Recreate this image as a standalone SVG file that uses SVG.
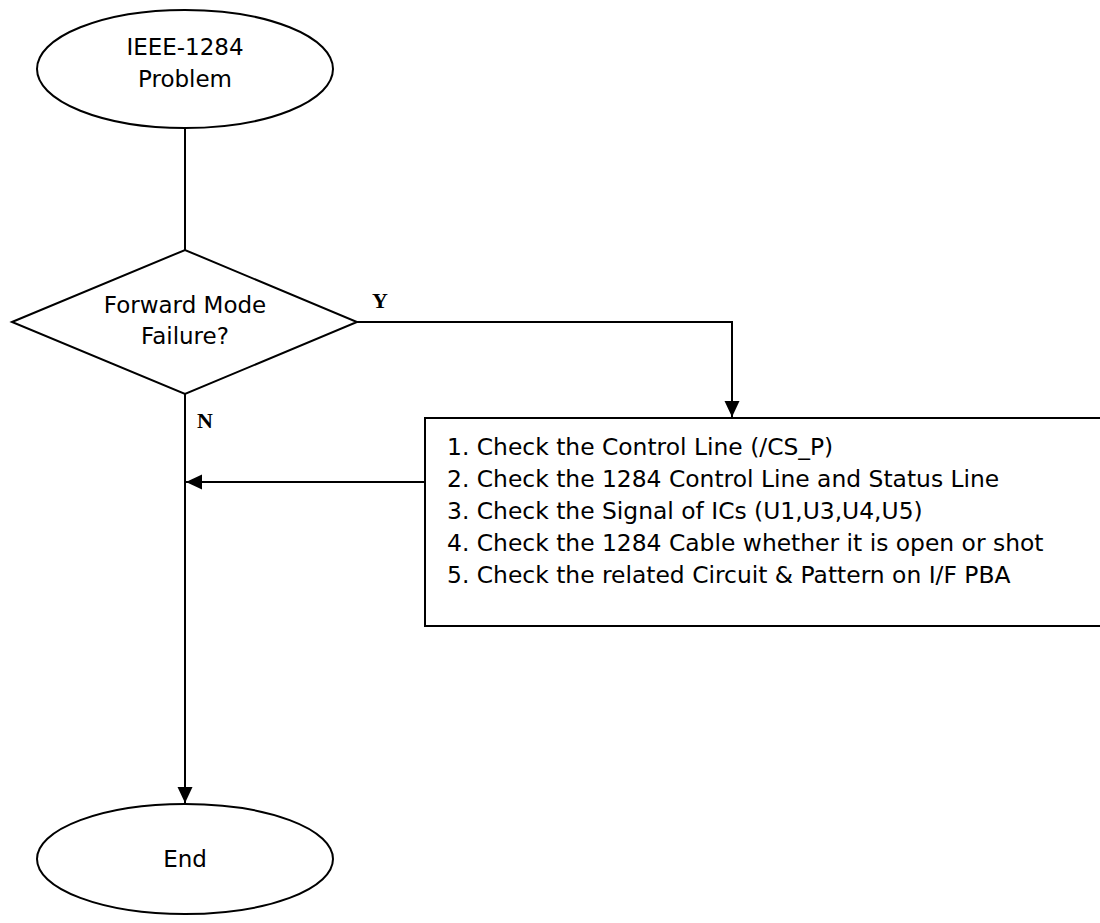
<svg xmlns="http://www.w3.org/2000/svg" width="1100" height="923" viewBox="0 0 1100 923">
<defs>
<style>
.shape{fill:#fff;stroke:#000;stroke-width:2}
.conn{fill:none;stroke:#000;stroke-width:2}
.t{font-family:"DejaVu Sans",Verdana,sans-serif;font-size:23px;fill:#000}
.b{font-size:23.4px}
.c{text-anchor:middle}
.lbl{font-family:"Liberation Serif","Times New Roman",serif;font-weight:bold;font-size:22px;fill:#000}
</style>
<marker id="arr" markerUnits="userSpaceOnUse" markerWidth="17" markerHeight="16" refX="16" refY="7.5" orient="auto">
<path d="M0,0 L16,7.5 L0,15 Z" fill="#000"/>
</marker>
</defs>
<rect width="1100" height="923" fill="#fff"/>
<g id="connectors">
<line class="conn" x1="185" y1="128" x2="185" y2="250"/>
<polyline class="conn" points="357,322 732,322 732,417" marker-end="url(#arr)"/>
<line class="conn" x1="185" y1="394" x2="185" y2="803" marker-end="url(#arr)"/>
<line class="conn" x1="425" y1="482" x2="186" y2="482" marker-end="url(#arr)"/>
<text class="lbl" x="372" y="308">Y</text>
<text class="lbl" x="197" y="428">N</text>
</g>
<g id="start">
<ellipse class="shape" cx="185" cy="69" rx="148" ry="59"/>
<text class="t c" x="185" y="55">IEEE-1284</text>
<text class="t c" x="185" y="87">Problem</text>
</g>
<g id="decision">
<polygon class="shape" points="12,322 185,250 357,322 185,394"/>
<text class="t c" x="185" y="313">Forward Mode</text>
<text class="t c" x="185" y="344">Failure?</text>
</g>
<g id="checks">
<rect class="shape" x="425" y="418" width="720" height="208"/>
<text class="t b" x="447" y="455">1. Check the Control Line (/CS_P)</text>
<text class="t b" x="447" y="487">2. Check the 1284 Control Line and Status Line</text>
<text class="t b" x="447" y="519">3. Check the Signal of ICs (U1,U3,U4,U5)</text>
<text class="t b" x="447" y="551">4. Check the 1284 Cable whether it is open or shot</text>
<text class="t b" x="447" y="583">5. Check the related Circuit &amp; Pattern on I/F PBA</text>
</g>
<g id="end">
<ellipse class="shape" cx="185" cy="859" rx="148" ry="55"/>
<text class="t c" x="185" y="867">End</text>
</g>
</svg>
